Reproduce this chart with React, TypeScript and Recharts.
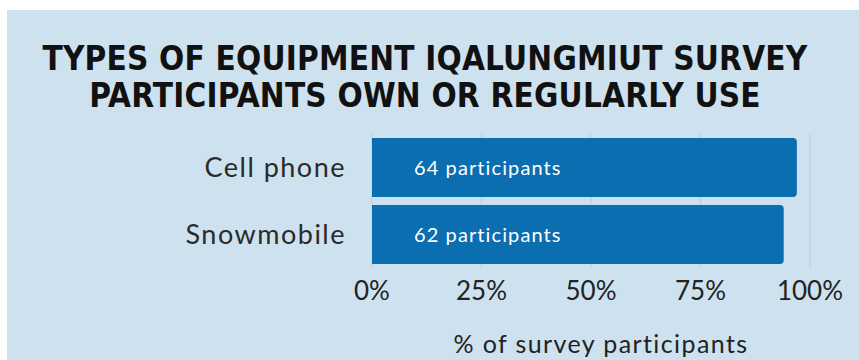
import React from 'react';
import { BarChart, Bar, XAxis, YAxis, CartesianGrid, LabelList } from 'recharts';

// equipment types, share of participants (%), and participant counts
const categories = ['Cell phone', 'Snowmobile'];
const shares = [97, 94];
const counts = [64, 62];
const xTicks = [0, 25, 50, 75, 100];

const data = categories.map((name, i) => ({ name, share: shares[i], count: counts[i] }));

const BG = '#cde1ee';
const BAR = '#0b6eb1';

export default function App() {
  return (
    <div style={{ position: 'relative', width: 859, height: 360, background: '#fff', overflow: 'hidden' }}>
      <style>{`body{margin:0}`}</style>
      <div style={{ position: 'absolute', left: 7, top: 10, width: 852, height: 350, background: BG }} />
      <div
        style={{
          position: 'absolute',
          left: 0,
          top: 40,
          width: 850,
          textAlign: 'center',
          fontFamily: '"Liberation Sans Narrow", "DejaVu Sans Condensed", sans-serif',
          fontWeight: 700,
          fontSize: 33,
          lineHeight: '37px',
          letterSpacing: 0.2,
          color: '#111',
        }}
      >
        TYPES OF EQUIPMENT IQALUNGMIUT SURVEY
        <br />
        PARTICIPANTS OWN OR REGULARLY USE
      </div>
      <div style={{ position: 'absolute', left: 0, top: 0 }}>
        <BarChart
          width={859}
          height={360}
          data={data}
          layout="vertical"
          margin={{ top: 134, right: 49, bottom: 0, left: 0 }}
          barCategoryGap={4}
        >
          <CartesianGrid horizontal={false} stroke="#b8cfe0" />
          <XAxis
            type="number"
            domain={[0, 100]}
            ticks={xTicks}
            tickFormatter={(v) => `${v}%`}
            axisLine={false}
            tickLine={false}
            tickSize={0}
            tickMargin={14}
            height={92}
            tick={{ fill: '#222', fontSize: 26, fontFamily: 'Lato, sans-serif' }}
            label={{
              value: '% of survey participants',
              position: 'insideBottom',
              offset: 7,
              dx: 10,
              fill: '#222',
              fontSize: 25,
              letterSpacing: 1.4,
              fontFamily: 'Lato, sans-serif',
            }}
          />
          <YAxis
            type="category"
            dataKey="name"
            width={372}
            axisLine={false}
            tickLine={false}
            tickSize={0}
            tickMargin={26}
            tick={{ fill: '#2a2a2a', fontSize: 27, letterSpacing: 1.5, fontFamily: 'Lato, sans-serif' }}
          />
          <Bar dataKey="share" fill={BAR} radius={[0, 4, 4, 0]} isAnimationActive={false}>
            <LabelList
              dataKey="count"
              position="insideLeft"
              offset={42}
              formatter={(v: any) => `${v} participants`}
              fill="#fff"
              fontSize={20}
              letterSpacing={1.1}
              fontFamily="Lato, sans-serif"
            />
          </Bar>
        </BarChart>
      </div>
    </div>
  );
}
